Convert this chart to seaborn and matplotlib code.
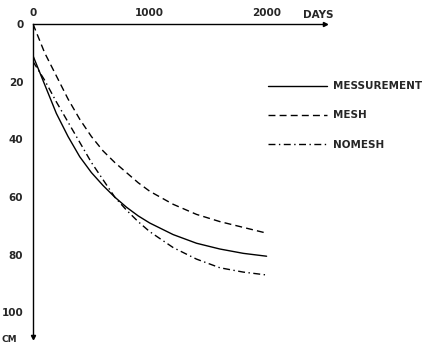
import pandas as pd
import matplotlib.pyplot as plt
import seaborn as sns

sns.set_theme(style="white")
plt.rcParams['font.family'] = ['DejaVu Sans']
plt.rcParams['font.weight'] = 'bold'

# values (days vs settlement in cm)
days = [0, 100, 200, 300, 400, 500, 600, 700, 800, 900, 1000, 1200, 1400, 1600, 1800, 2000]
measurement = [11, 21, 31, 39, 46, 51.5, 56, 60, 63.5, 66.5, 69, 73, 76, 78, 79.5, 80.5]
mesh = [0, 10, 18, 26, 33, 39, 44, 48, 51.5, 55, 58, 62.5, 66, 68.5, 70.5, 72.5]
nomesh = [13, 19.5, 27, 34, 41, 48, 54, 60, 64.5, 68.5, 72, 77.5, 81.5, 84.5, 86, 87]

series_names = ['MESSUREMENT', 'MESH', 'NOMESH']
x_ticks = [0, 1000, 2000]
y_ticks = [0, 20, 40, 60, 80, 100]

df = pd.DataFrame({'day': days * 3,
                   'cm': measurement + mesh + nomesh,
                   'series': [s for s in series_names for _ in days]})

fig = plt.figure(figsize=(4.32, 3.46), dpi=100)
ax = fig.add_axes([33 / 432, 1 - 337 / 346, 292 / 432, 313 / 346])

dash_styles = {'MESSUREMENT': '', 'MESH': (5, 3), 'NOMESH': (5, 2.5, 1, 2.5)}
sns.lineplot(data=df, x='day', y='cm', style='series', dashes=dash_styles,
             color='black', linewidth=1.0, ax=ax, legend=True)

ax.set_xlim(0, 2500)
ax.set_ylim(108.5, 0)
ax.xaxis.tick_top()
ax.set_xticks(x_ticks)
ax.set_yticks(y_ticks)
ax.tick_params(axis='x', length=0, pad=4, labelsize=7.5)
ax.tick_params(axis='y', length=0, pad=7, labelsize=7.5)
ax.set_xlabel('')
ax.set_ylabel('')
for side in ['right', 'bottom']:
    ax.spines[side].set_visible(False)
for side in ['left', 'top']:
    ax.spines[side].set_color('black')
    ax.spines[side].set_linewidth(1.0)

# arrow heads on the axes
ax.plot([1], [1], marker='>', markersize=3, color='black', transform=ax.transAxes, clip_on=False)
ax.plot([0], [0], marker='v', markersize=3, color='black', transform=ax.transAxes, clip_on=False)

fig.text(318 / 432, 1 - 15 / 346, 'DAYS', ha='center', va='center', fontsize=7.5, fontweight='bold')
fig.text(1 / 432, 1 - 339 / 346, 'CM', ha='left', va='center', fontsize=6.5, fontweight='bold')

handles, labels = ax.get_legend_handles_labels()
ax.get_legend().remove()
fig.legend(handles, labels, loc='upper left', bbox_to_anchor=(263 / 432, 1 - 76 / 346),
           frameon=False, borderpad=0, handlelength=5.6, handletextpad=0.6,
           labelspacing=1.85, prop={'size': 7.5, 'weight': 'bold'})

fig.savefig('out.png', dpi=100)
